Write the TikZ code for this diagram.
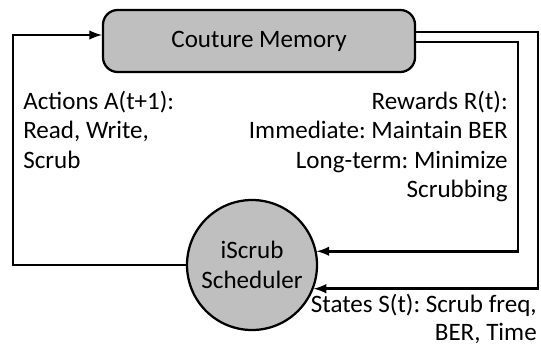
\documentclass[tikz,border=0pt]{standalone}
\usepackage{fontspec}
\setmainfont{Carlito}
\frenchspacing
\usetikzlibrary{positioning}
\definecolor{blockgray}{RGB}{191,191,191}
\tikzset{
    membox/.style={draw, line width=1.7pt, fill=blockgray, rounded corners=11pt,
        minimum width=234pt, minimum height=46.5pt, inner sep=0pt},
    agent/.style={draw, circle, line width=1.7pt, fill=blockgray, minimum size=97.5pt,
        inner sep=0pt, align=center},
    link/.style={line width=2.2pt, -latex},
    lbl/.style={inner sep=0pt, font=\fontsize{18.8}{22}\selectfont}
}
\begin{document}
\begin{tikzpicture}[x=0.75pt,y=0.75pt,yscale=-1,xscale=1]
            \useasboundingbox (0,0) rectangle (541,347);
            %blocks
            \node[membox, lbl] (mem) at (259,41) {Couture Memory};
            \node[agent, lbl] (sched) at (252,265) {iScrub\\Scheduler};
            %
            %labels
            \node[lbl, anchor=north west, align=left] (actions) at (23,91) {Actions A(t+1):\\Read, Write,\\Scrub};
            \node[lbl, anchor=north east, align=right] (rewards) at (508,91) {Rewards R(t):\\Immediate: Maintain BER\\Long-term: Minimize\\Scrubbing};
            \node[lbl, anchor=north east, align=right, font=\fontsize{18.8}{21}\selectfont] (states) at (537,294) {States S(t): Scrub freq,\\BER, Time};
            %
            %actions
            \coordinate (lft) at (13,35);
            \draw[link] (sched.west) -| (lft) -- (lft -| mem.west);
            %rewards
            \coordinate (rin) at (518,42);
            \draw[link] (rin -| mem.east) -- (rin) |- (sched.12.4);
            %states
            \coordinate (rout) at (538,32);
            \draw[link] (rout -| mem.east) -- (rout) |- (sched.-21.7);
            %
\end{tikzpicture}
\end{document}
